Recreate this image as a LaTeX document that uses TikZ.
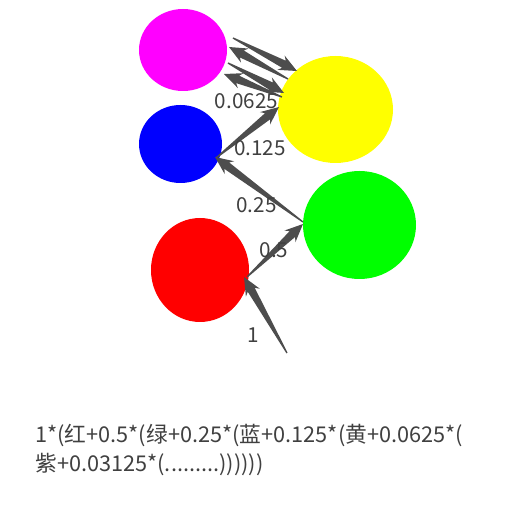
\documentclass[tikz,border=0pt]{standalone}
\usepackage{fontspec}
\setmainfont{Noto Sans CJK SC}
\usetikzlibrary{calc,shapes.geometric}
\definecolor{edgecol}{HTML}{4D4D4D}
\definecolor{txtcol}{HTML}{404040}
\newcommand\taperarrow[2]{%
  \fill[edgecol] ($(#1)!0.5pt!90:(#2)$)
    -- ($(#2)!11pt!(#1)!3pt!90:(#2)$)
    -- ($(#2)!13.5pt!(#1)!6pt!90:(#2)$)
    -- (#2)
    -- ($(#2)!13.5pt!(#1)!6pt!-90:(#2)$)
    -- ($(#2)!11pt!(#1)!3pt!-90:(#2)$)
    -- ($(#1)!0.5pt!-90:(#2)$)
    -- cycle;}
\begin{document}
\begin{tikzpicture}[x=0.75pt,y=-0.75pt,
  ball/.style={ellipse,draw=none,inner sep=0pt},
  lbl/.style={text=txtcol,font=\fontsize{15.5}{18}\selectfont,inner sep=0pt},
  formula/.style={text=txtcol,font=\fontsize{16.3}{18}\selectfont,inner sep=0pt,anchor=base west}]
\useasboundingbox (0,0) rectangle (512,510);
% nodes
\node[ball,fill={rgb,255:red,255;green,0;blue,255},minimum width=66pt,minimum height=61.5pt] (purple) at (183,50) {};
\node[ball,fill={rgb,255:red,0;green,0;blue,255},minimum width=62.25pt,minimum height=58.5pt] (blue) at (180.5,144) {};
\node[ball,fill={rgb,255:red,255;green,255;blue,0},minimum width=86.25pt,minimum height=80.25pt] (yellow) at (335.5,109.5) {};
\node[ball,fill={rgb,255:red,0;green,255;blue,0},minimum width=84.75pt,minimum height=81pt] (green) at (359.5,225) {};
\node[ball,fill={rgb,255:red,255;green,0;blue,0},minimum width=73.5pt,minimum height=78pt] (red) at (200,270) {};
% connector end points
\coordinate (a1s) at (287,353);
\coordinate (a1t) at (244,277);
\coordinate (a2s) at (247,277);
\coordinate (a2t) at (303,224);
\coordinate (a3s) at (303,222);
\coordinate (a3t) at (215,157);
\coordinate (a4s) at (216,158);
\coordinate (a4t) at (279,107);
\coordinate (a5s) at (282,97);
\coordinate (a5t) at (224,74);
\coordinate (a6s) at (228,63);
\coordinate (a6t) at (284,93);
\coordinate (a7s) at (288,79);
\coordinate (a7t) at (229,47);
\coordinate (a8s) at (233,38);
\coordinate (a8t) at (297,71);
% connectors
\taperarrow{a1s}{a1t}
\taperarrow{a2s}{a2t}
\taperarrow{a3s}{a3t}
\taperarrow{a4s}{a4t}
\taperarrow{a5s}{a5t}
\taperarrow{a6s}{a6t}
\taperarrow{a7s}{a7t}
\taperarrow{a8s}{a8t}
% labels
\node[lbl] (l1) at (253,335) {1};
\node[lbl] (l2) at (274,250) {0.5};
\node[lbl] (l3) at (256.5,205) {0.25};
\node[lbl] (l4) at (260,148) {0.125};
\node[lbl] (l5) at (246.5,101) {0.0625};
% formula
\node[formula] (f1) at (35,443) {1*(红+0.5*(绿+0.25*(蓝+0.125*(黄+0.0625*(};
\node[formula] (f2) at (35,472) {紫+0.03125*(.........))))))};
\end{tikzpicture}
\end{document}
